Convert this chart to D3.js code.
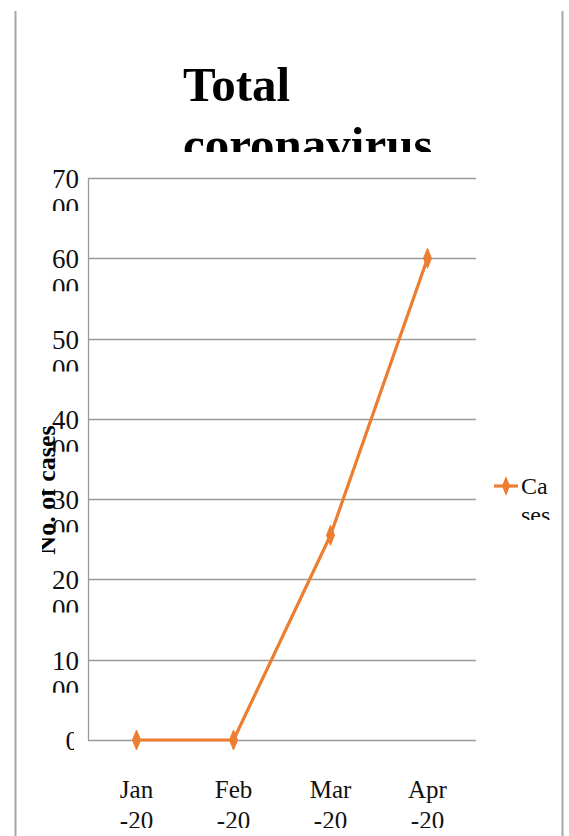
<!DOCTYPE html>
<html>
<head>
<meta charset="utf-8">
<script src="https://cdn.jsdelivr.net/npm/d3@7"></script>
<style>
  body { margin: 0; background: #fff; }
  text { font-family: "Liberation Serif", "Times New Roman", serif; }
</style>
</head>
<body>
<div id="chart"></div>
<script>
// chart data
var months = ["Jan", "Feb", "Mar", "Apr"];
var monthSub = ["-20", "-20", "-20", "-20"];
var cases = [0, 0, 2550, 6000];
var yTicks = [0, 1000, 2000, 3000, 4000, 5000, 6000, 7000];
var seriesName = "Cases";

var svgWidth = 569;
var svgHeight = 836;

var margin = { top: 178, right: 93, bottom: 96, left: 88 };
var width = svgWidth - margin.left - margin.right;
var height = svgHeight - margin.top - margin.bottom;

var orange = "#ED7D31";
var gridColor = "#9a9a9a";

var svg = d3.select("#chart")
  .append("svg")
  .attr("width", svgWidth)
  .attr("height", svgHeight);

// frame lines left and right
svg.append("line")
  .attr("x1", 15.5).attr("x2", 15.5)
  .attr("y1", 11).attr("y2", svgHeight)
  .attr("stroke", "#a6a6a6").attr("stroke-width", 2);
svg.append("line")
  .attr("x1", 562.5).attr("x2", 562.5)
  .attr("y1", 11).attr("y2", svgHeight)
  .attr("stroke", "#a6a6a6").attr("stroke-width", 2);

var defs = svg.append("defs");

// title, second line cut off
defs.append("clipPath").attr("id", "titleClip")
  .append("rect").attr("x", 0).attr("y", 0).attr("width", svgWidth).attr("height", 152);

var title = svg.append("text")
  .attr("clip-path", "url(#titleClip)")
  .attr("x", 183)
  .attr("y", 101)
  .attr("font-size", "49px")
  .attr("font-weight", "bold");
title.append("tspan").attr("x", 183).text("Total");
title.append("tspan").attr("x", 183).attr("dy", 60).text("coronavirus");

var chartGroup = svg.append("g")
  .attr("transform", `translate(${margin.left}, ${margin.top})`);

var xScale = d3.scaleBand()
  .domain(months)
  .range([0, width]);

var yScale = d3.scaleLinear()
  .domain([0, 7000])
  .range([height, 0]);

// gridlines
chartGroup.append("g")
  .selectAll("line")
  .data(yTicks)
  .enter()
  .append("line")
  .attr("x1", 0)
  .attr("x2", width)
  .attr("y1", d => Math.round(yScale(d)) + 0.5)
  .attr("y2", d => Math.round(yScale(d)) + 0.5)
  .attr("stroke", gridColor)
  .attr("stroke-width", 1.3);

// y axis line
chartGroup.append("line")
  .attr("x1", 0.5).attr("x2", 0.5)
  .attr("y1", 0).attr("y2", height)
  .attr("stroke", gridColor)
  .attr("stroke-width", 1.3);

// y axis title (drawn first so tick labels sit on top), partly cut
defs.append("clipPath").attr("id", "yTitleClip")
  .append("rect").attr("x", 42).attr("y", 0).attr("width", 30).attr("height", svgHeight);

svg.append("g")
  .attr("clip-path", "url(#yTitleClip)")
  .append("text")
  .attr("transform", `translate(55, 490) rotate(-90)`)
  .attr("text-anchor", "middle")
  .attr("font-size", "26px")
  .attr("font-weight", "bold")
  .text("No. of cases");

// y tick labels, wrapped in two lines and clipped
var yLabelGroup = chartGroup.append("g");
yTicks.forEach(function(t, i) {
  var yPos = yScale(t);
  var cid = "yclip" + i;
  defs.append("clipPath").attr("id", cid)
    .append("rect")
    .attr("x", -90)
    .attr("y", yPos - 16)
    .attr("width", t === 0 ? 76 : 90)
    .attr("height", 49);
  var s = String(t);
  var lab = yLabelGroup.append("text")
    .attr("clip-path", `url(#${cid})`)
    .attr("x", -9)
    .attr("y", yPos + 10)
    .attr("text-anchor", "end")
    .attr("font-size", "27px")
    .attr("fill", "#111");
  if (s.length > 2) {
    lab.append("tspan").attr("x", -9).text(s.slice(0, 2));
    lab.append("tspan").attr("x", -9).attr("dy", 29).text(s.slice(2));
  } else {
    lab.append("tspan").attr("x", -9).text(s);
  }
});

// x tick labels
defs.append("clipPath").attr("id", "xclip")
  .append("rect").attr("x", -margin.left).attr("y", 0)
  .attr("width", svgWidth).attr("height", 828 - margin.top);

var xLabels = chartGroup.append("g").attr("clip-path", "url(#xclip)");
months.forEach(function(m, i) {
  var cx = xScale(m) + xScale.bandwidth() / 2;
  var tx = xLabels.append("text")
    .attr("x", cx)
    .attr("y", 798 - margin.top)
    .attr("text-anchor", "middle")
    .attr("font-size", "25px")
    .attr("fill", "#111");
  tx.append("tspan").attr("x", cx).text(m);
  tx.append("tspan").attr("x", cx).attr("dy", 31).text(monthSub[i]);
});

// series line
var line = d3.line()
  .x((d, i) => xScale(months[i]) + xScale.bandwidth() / 2)
  .y(d => yScale(d));

chartGroup.append("path")
  .datum(cases)
  .attr("d", line)
  .attr("fill", "none")
  .attr("stroke", orange)
  .attr("stroke-width", 3.2)
  .attr("stroke-linejoin", "round");

// diamond markers
function diamond(x, y) {
  return `M${x},${y - 10}L${x + 4},${y}L${x},${y + 10}L${x - 4},${y}Z`;
}

chartGroup.selectAll(".marker")
  .data(cases)
  .enter()
  .append("path")
  .attr("class", "marker")
  .attr("d", (d, i) => diamond(xScale(months[i]) + xScale.bandwidth() / 2, yScale(d)))
  .attr("fill", orange)
  .attr("stroke", orange)
  .attr("stroke-width", 1);

// legend
var legend = svg.append("g");
legend.append("line")
  .attr("x1", 494).attr("x2", 518)
  .attr("y1", 486).attr("y2", 486)
  .attr("stroke", orange).attr("stroke-width", 3.2);
legend.append("path")
  .attr("d", diamond(506, 486))
  .attr("fill", orange);

defs.append("clipPath").attr("id", "legClip")
  .append("rect").attr("x", 480).attr("y", 460).attr("width", 80).attr("height", 60);

var legText = legend.append("text")
  .attr("clip-path", "url(#legClip)")
  .attr("x", 521)
  .attr("y", 494)
  .attr("font-size", "24px")
  .attr("fill", "#111");
legText.append("tspan").attr("x", 521).text(seriesName.slice(0, 2));
legText.append("tspan").attr("x", 521).attr("dy", 29).text(seriesName.slice(2));
</script>
</body>
</html>
